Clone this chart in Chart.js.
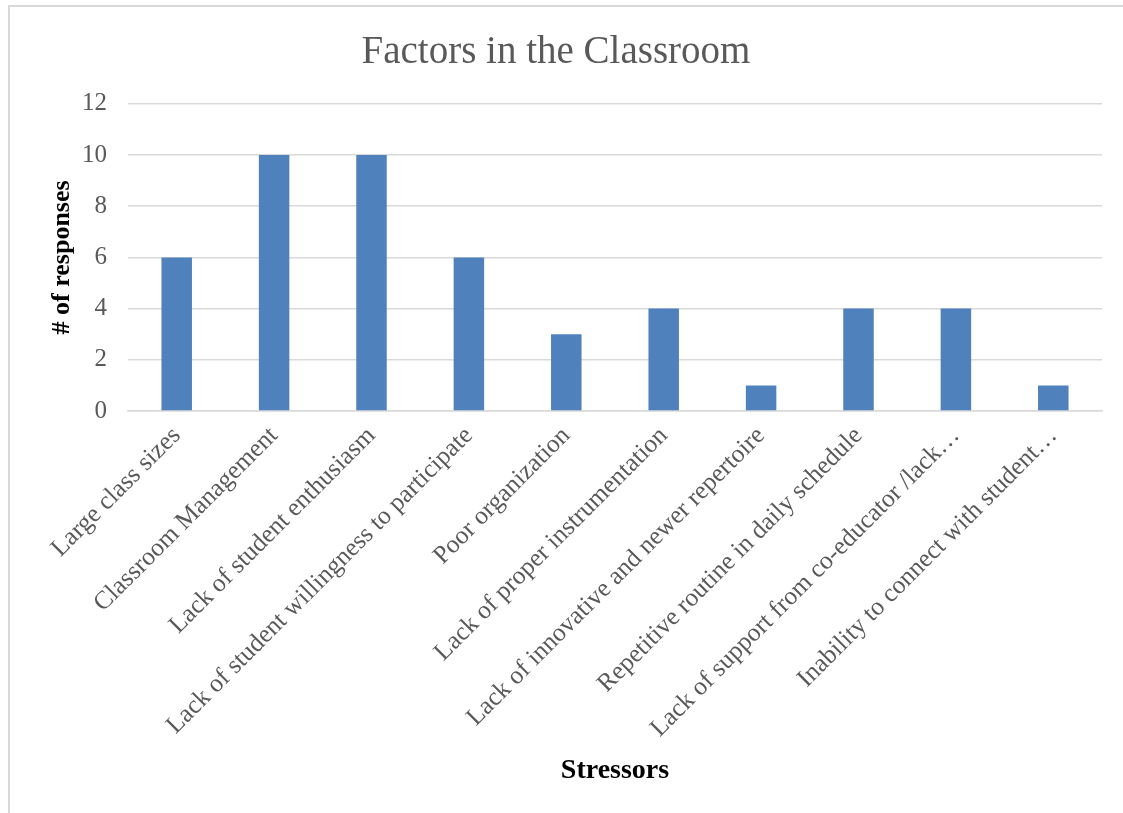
<!DOCTYPE html>
<html>
<head>
<meta charset="utf-8">
<script src="https://cdn.jsdelivr.net/npm/chart.js@4.4.0/dist/chart.umd.min.js"></script>
<style>
  html, body { margin:0; padding:0; background:#fff; overflow:hidden; }
  #box { position:absolute; left:8px; top:5px; width:1120px; height:812px;
         border-left:2px solid #d9d9d9; border-top:2px solid #d9d9d9; }
  #wrap { position:absolute; left:0; top:0; width:1113px; height:806px; }
</style>
</head>
<body>
<div id="box"><div id="wrap"><canvas id="chart"></canvas></div></div>
<script>
// categories and counts
let stressors = [
  "Large class sizes",
  "Classroom Management",
  "Lack of student enthusiasm",
  "Lack of student willingness to participate",
  "Poor organization",
  "Lack of proper instrumentation",
  "Lack of innovative and newer repertoire",
  "Repetitive routine in daily schedule",
  "Lack of support from co-educator /lack\u2026",
  "Inability to connect with student\u2026"
];
let responses = [6, 10, 10, 6, 3, 4, 1, 4, 4, 1];
let yTicks = [0, 2, 4, 6, 8, 10, 12];

let serif = "'Liberation Serif', serif";
let grey = "#595959";

let ctx = document.getElementById("chart").getContext("2d");
new Chart(ctx, {
  type: "bar",
  data: {
    labels: stressors,
    datasets: [{
      label: "# of responses",
      data: responses,
      backgroundColor: "#4f81bd",
      categoryPercentage: 1,
      barPercentage: 0.313
    }]
  },
  options: {
    responsive: true,
    maintainAspectRatio: false,
    animation: false,
    layout: { padding: { left: 0, right: 21, top: 0, bottom: 14 } },
    plugins: {
      legend: { display: false },
      tooltip: { enabled: false },
      title: {
        display: true,
        text: "Factors in the Classroom",
        color: grey,
        font: { family: serif, size: 39, weight: "normal" },
        padding: { top: 22, bottom: 28 }
      }
    },
    scales: {
      x: {
        grid: { display: false },
        border: { color: "#d9d9d9", width: 1.5 },
        ticks: {
          color: grey,
          font: { family: serif, size: 25.5 },
          maxRotation: 45, minRotation: 45,
          autoSkip: false,
          padding: 2
        },
        title: {
          display: true,
          text: "Stressors",
          color: "#000",
          font: { family: serif, size: 28, weight: "bold" },
          padding: { top: 0, bottom: 11 }
        },
        afterFit: s => { s.height = 388; }
      },
      y: {
        min: 0, max: 12,
        afterBuildTicks: s => { s.ticks = yTicks.map(v => ({ value: v })); },
        grid: { color: "#d9d9d9", lineWidth: 1.5, drawTicks: false },
        border: { display: false },
        ticks: {
          color: grey,
          font: { family: serif, size: 25 },
          padding: 21
        },
        title: {
          display: true,
          text: "# of responses",
          color: "#000",
          font: { family: serif, size: 26, weight: "bold" },
          padding: { top: 37, bottom: 0 }
        },
        afterFit: s => { s.width = 118; }
      }
    }
  }
});
</script>
</body>
</html>
